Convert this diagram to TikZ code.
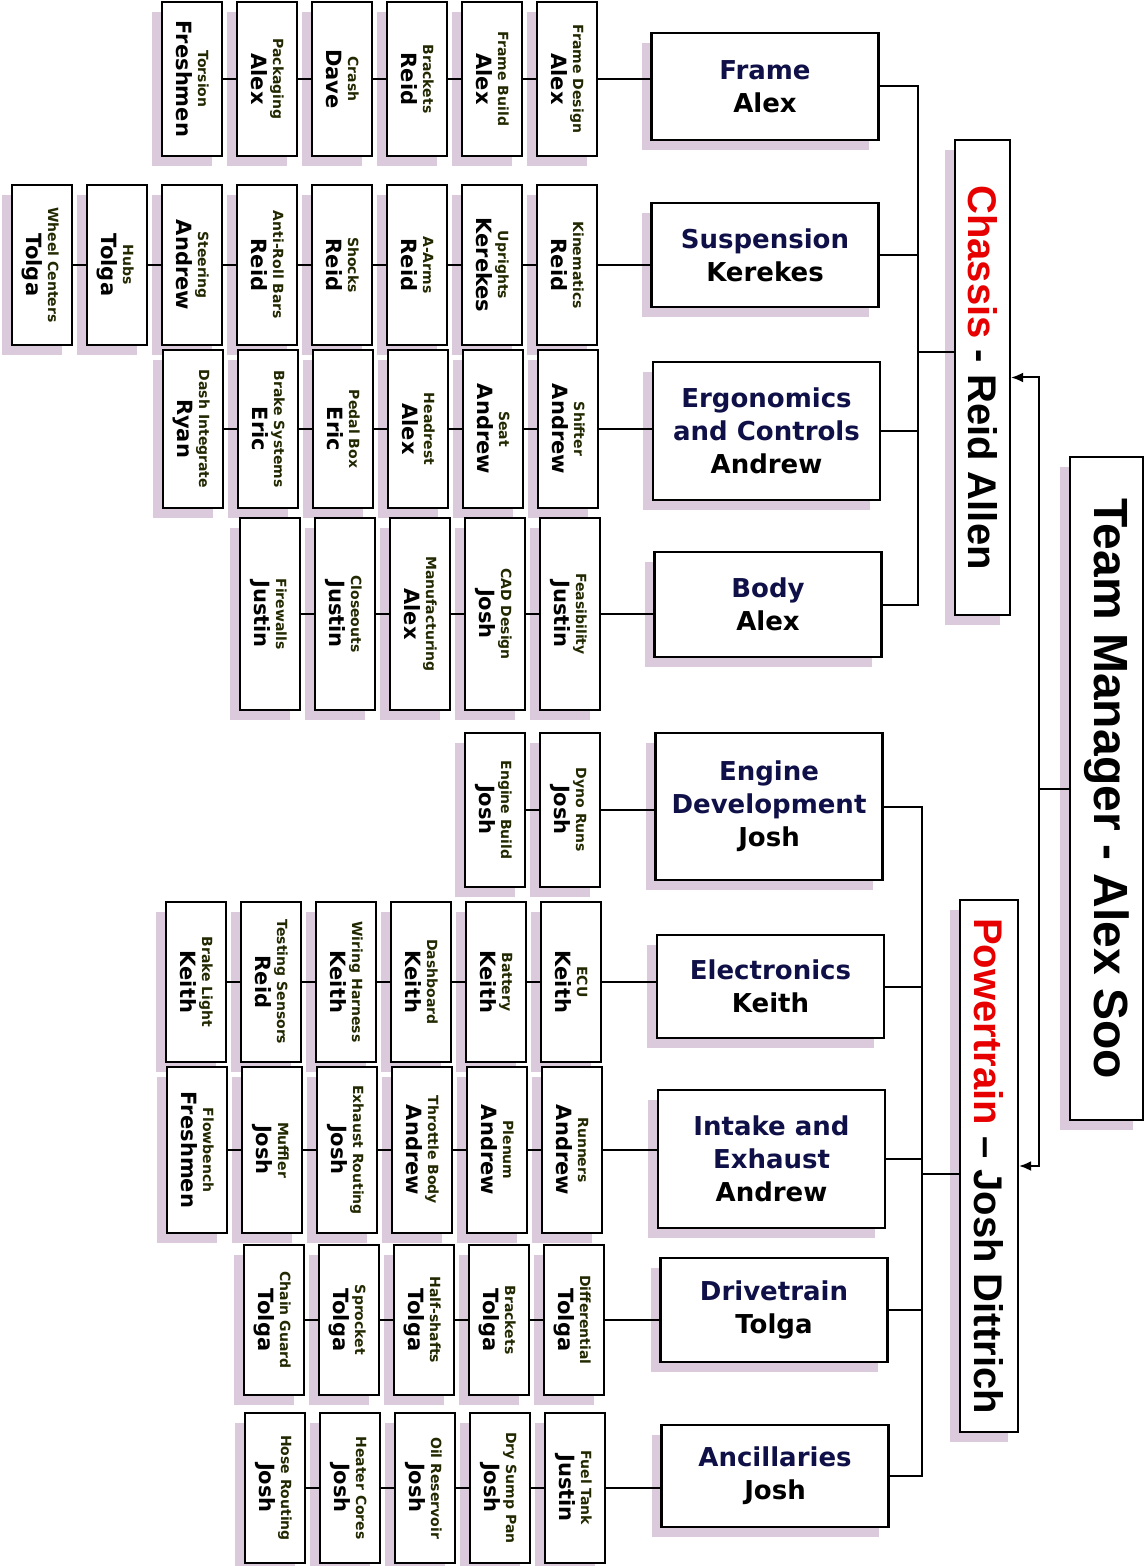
\documentclass[tikz,border=0pt]{standalone}
\usepackage{fontspec}
\setmainfont{DejaVu Sans}
\newfontfamily\leadfont{Liberation Sans}
\usetikzlibrary{positioning,shadows,arrows.meta}
\definecolor{navy}{RGB}{16,16,72}
\definecolor{tasklbl}{RGB}{34,40,0}
\definecolor{shade}{RGB}{218,202,220}
\definecolor{hdred}{RGB}{230,0,0}
\newcommand{\tsk}[2]{\rotatebox{-90}{\begin{tabular}{@{}c@{}}\fontsize{7}{8}\selectfont\color{tasklbl}#1\\[-1pt]\fontsize{10.5}{12}\selectfont #2\end{tabular}}}
\newcommand{\leadtext}[3]{\rotatebox{-90}{\fontsize{#1}{#1}\selectfont\textcolor{hdred}{#2} #3}}

\begin{document}
\begin{tikzpicture}[x=0.5pt,y=-0.5pt,node distance=6.4pt,
   box/.style={draw,line width=1.1pt,fill=white,inner sep=0pt,
      drop shadow={shadow xshift=-5pt,shadow yshift=-5pt,fill=shade,opacity=1}},
   task/.style={box,minimum width=30pt,minimum height=#1,font=\bfseries},
   area/.style={box,minimum width=113.5pt,minimum height=#1,align=center,
      font=\bfseries\fontsize{13}{16.5}\selectfont},
   lead/.style={box,font=\leadfont\bfseries},
   link/.style={line width=1pt},
   feed/.style={link,-{Latex[length=6pt,width=5pt]}}]
\useasboundingbox (0,0) rectangle (1146,1566);

\node[lead,minimum width=36.5pt,minimum height=331.5pt] (tm) at (1106.5,788.5)
   {\rotatebox{-90}{\fontsize{24}{24}\selectfont Team Manager - Alex Soo}};
\node[lead,minimum width=27.5pt,minimum height=237.5pt] (chassis) at (982.5,377.5)
   {\leadtext{20}{Chassis}{- Reid Allen}};
\node[lead,minimum width=29pt,minimum height=266pt] (powertrain) at (989,1166)
   {\leadtext{20}{Powertrain}{– Josh Dittrich}};

\node[area=53.5pt] (frame) at (765,86.5) {\textcolor{navy}{Frame}\\Alex};
\node[area=52pt] (susp) at (765,255) {\textcolor{navy}{Suspension}\\Kerekes};
\node[area=69pt] (ergo) at (766.5,431) {\textcolor{navy}{Ergonomics}\\\textcolor{navy}{and Controls}\\Andrew};
\node[area=52.5pt] (body) at (768,604.5) {\textcolor{navy}{Body}\\Alex};
\node[area=73.5pt] (engine) at (769,806.5) {\textcolor{navy}{Engine}\\\textcolor{navy}{Development}\\Josh};
\node[area=51.5pt] (elec) at (770.5,986.5) {\textcolor{navy}{Electronics}\\Keith};
\node[area=69pt] (intake) at (771.5,1159) {\textcolor{navy}{Intake and}\\\textcolor{navy}{Exhaust}\\Andrew};
\node[area=52pt] (drive) at (774,1310) {\textcolor{navy}{Drivetrain}\\Tolga};
\node[area=51pt] (ancil) at (775,1476) {\textcolor{navy}{Ancillaries}\\Josh};

\node[task=77pt] (fr1) at (567,79) {\tsk{Frame Design}{Alex}};
\node[task=77pt,left=of fr1] (fr2) {\tsk{Frame Build}{Alex}};
\node[task=77pt,left=of fr2] (fr3) {\tsk{Brackets}{Reid}};
\node[task=77pt,left=of fr3] (fr4) {\tsk{Crash}{Dave}};
\node[task=77pt,left=of fr4] (fr5) {\tsk{Packaging}{Alex}};
\node[task=77pt,left=of fr5] (fr6) {\tsk{Torsion}{Freshmen}};

\node[task=80pt] (su1) at (567,265) {\tsk{Kinematics}{Reid}};
\node[task=80pt,left=of su1] (su2) {\tsk{Uprights}{Kerekes}};
\node[task=80pt,left=of su2] (su3) {\tsk{A-Arms}{Reid}};
\node[task=80pt,left=of su3] (su4) {\tsk{Shocks}{Reid}};
\node[task=80pt,left=of su4] (su5) {\tsk{Anti-Roll Bars}{Reid}};
\node[task=80pt,left=of su5] (su6) {\tsk{Steering}{Andrew}};
\node[task=80pt,left=of su6] (su7) {\tsk{Hubs}{Tolga}};
\node[task=80pt,left=of su7] (su8) {\tsk{Wheel Centers}{Tolga}};

\node[task=79pt] (er1) at (568,429) {\tsk{Shifter}{Andrew}};
\node[task=79pt,left=of er1] (er2) {\tsk{Seat}{Andrew}};
\node[task=79pt,left=of er2] (er3) {\tsk{Headrest}{Alex}};
\node[task=79pt,left=of er3] (er4) {\tsk{Pedal Box}{Eric}};
\node[task=79pt,left=of er4] (er5) {\tsk{Brake Systems}{Eric}};
\node[task=79pt,left=of er5] (er6) {\tsk{Dash Integrate}{Ryan}};

\node[task=96pt] (bo1) at (570,614) {\tsk{Feasibility}{Justin}};
\node[task=96pt,left=of bo1] (bo2) {\tsk{CAD Design}{Josh}};
\node[task=96pt,left=of bo2] (bo3) {\tsk{Manufacturing}{Alex}};
\node[task=96pt,left=of bo3] (bo4) {\tsk{Closeouts}{Justin}};
\node[task=96pt,left=of bo4] (bo5) {\tsk{Firewalls}{Justin}};

\node[task=77pt] (en1) at (570,810) {\tsk{Dyno Runs}{Josh}};
\node[task=77pt,left=of en1] (en2) {\tsk{Engine Build}{Josh}};

\node[task=80pt] (el1) at (571,982) {\tsk{ECU}{Keith}};
\node[task=80pt,left=of el1] (el2) {\tsk{Battery}{Keith}};
\node[task=80pt,left=of el2] (el3) {\tsk{Dashboard}{Keith}};
\node[task=80pt,left=of el3] (el4) {\tsk{Wiring Harness}{Keith}};
\node[task=80pt,left=of el4] (el5) {\tsk{Testing Sensors}{Reid}};
\node[task=80pt,left=of el5] (el6) {\tsk{Brake Light}{Keith}};

\node[task=83pt] (in1) at (572,1150) {\tsk{Runners}{Andrew}};
\node[task=83pt,left=of in1] (in2) {\tsk{Plenum}{Andrew}};
\node[task=83pt,left=of in2] (in3) {\tsk{Throttle Body}{Andrew}};
\node[task=83pt,left=of in3] (in4) {\tsk{Exhaust Routing}{Josh}};
\node[task=83pt,left=of in4] (in5) {\tsk{Muffler}{Josh}};
\node[task=83pt,left=of in5] (in6) {\tsk{Flowbench}{Freshmen}};

\node[task=75pt] (dr1) at (574,1320) {\tsk{Differential}{Tolga}};
\node[task=75pt,left=of dr1] (dr2) {\tsk{Brackets}{Tolga}};
\node[task=75pt,left=of dr2] (dr3) {\tsk{Half-shafts}{Tolga}};
\node[task=75pt,left=of dr3] (dr4) {\tsk{Sprocket}{Tolga}};
\node[task=75pt,left=of dr4] (dr5) {\tsk{Chain Guard}{Tolga}};

\node[task=75pt] (an1) at (575,1488) {\tsk{Fuel Tank}{Justin}};
\node[task=75pt,left=of an1] (an2) {\tsk{Dry Sump Pan}{Josh}};
\node[task=75pt,left=of an2] (an3) {\tsk{Oil Reservoir}{Josh}};
\node[task=75pt,left=of an3] (an4) {\tsk{Heater Cores}{Josh}};
\node[task=75pt,left=of an4] (an5) {\tsk{Hose Routing}{Josh}};

\draw[link] (frame.west |- fr1) -- (fr1) -- (fr2) -- (fr3) -- (fr4) -- (fr5) -- (fr6);
\draw[link] (susp.west |- su1) -- (su1) -- (su2) -- (su3) -- (su4) -- (su5) -- (su6) -- (su7) -- (su8);
\draw[link] (ergo.west |- er1) -- (er1) -- (er2) -- (er3) -- (er4) -- (er5) -- (er6);
\draw[link] (body.west |- bo1) -- (bo1) -- (bo2) -- (bo3) -- (bo4) -- (bo5);
\draw[link] (engine.west |- en1) -- (en1) -- (en2);
\draw[link] (elec.west |- el1) -- (el1) -- (el2) -- (el3) -- (el4) -- (el5) -- (el6);
\draw[link] (intake.west |- in1) -- (in1) -- (in2) -- (in3) -- (in4) -- (in5) -- (in6);
\draw[link] (drive.west |- dr1) -- (dr1) -- (dr2) -- (dr3) -- (dr4) -- (dr5);
\draw[link] (ancil.west |- an1) -- (an1) -- (an2) -- (an3) -- (an4) -- (an5);

\coordinate (cbus) at (918,352);
\draw[link] (frame.east) -| (cbus) |- (body.east);
\draw[link] (susp.east) -- (susp.east -| cbus);
\draw[link] (ergo.east) -- (ergo.east -| cbus);
\draw[link] (cbus) -- (chassis.west |- cbus);

\coordinate (pbus) at (922,1174);
\draw[link] (engine.east) -| (pbus) |- (ancil.east);
\draw[link] (elec.east) -- (elec.east -| pbus);
\draw[link] (intake.east) -- (intake.east -| pbus);
\draw[link] (drive.east) -- (drive.east -| pbus);
\draw[link] (pbus) -- (powertrain.west |- pbus);

\draw[link] (tm.west) -- ++(-30,0) coordinate (mbus);
\draw[feed] (mbus) |- (chassis.east);
\draw[feed] (mbus) |- (powertrain.east);
\end{tikzpicture}
\end{document}
